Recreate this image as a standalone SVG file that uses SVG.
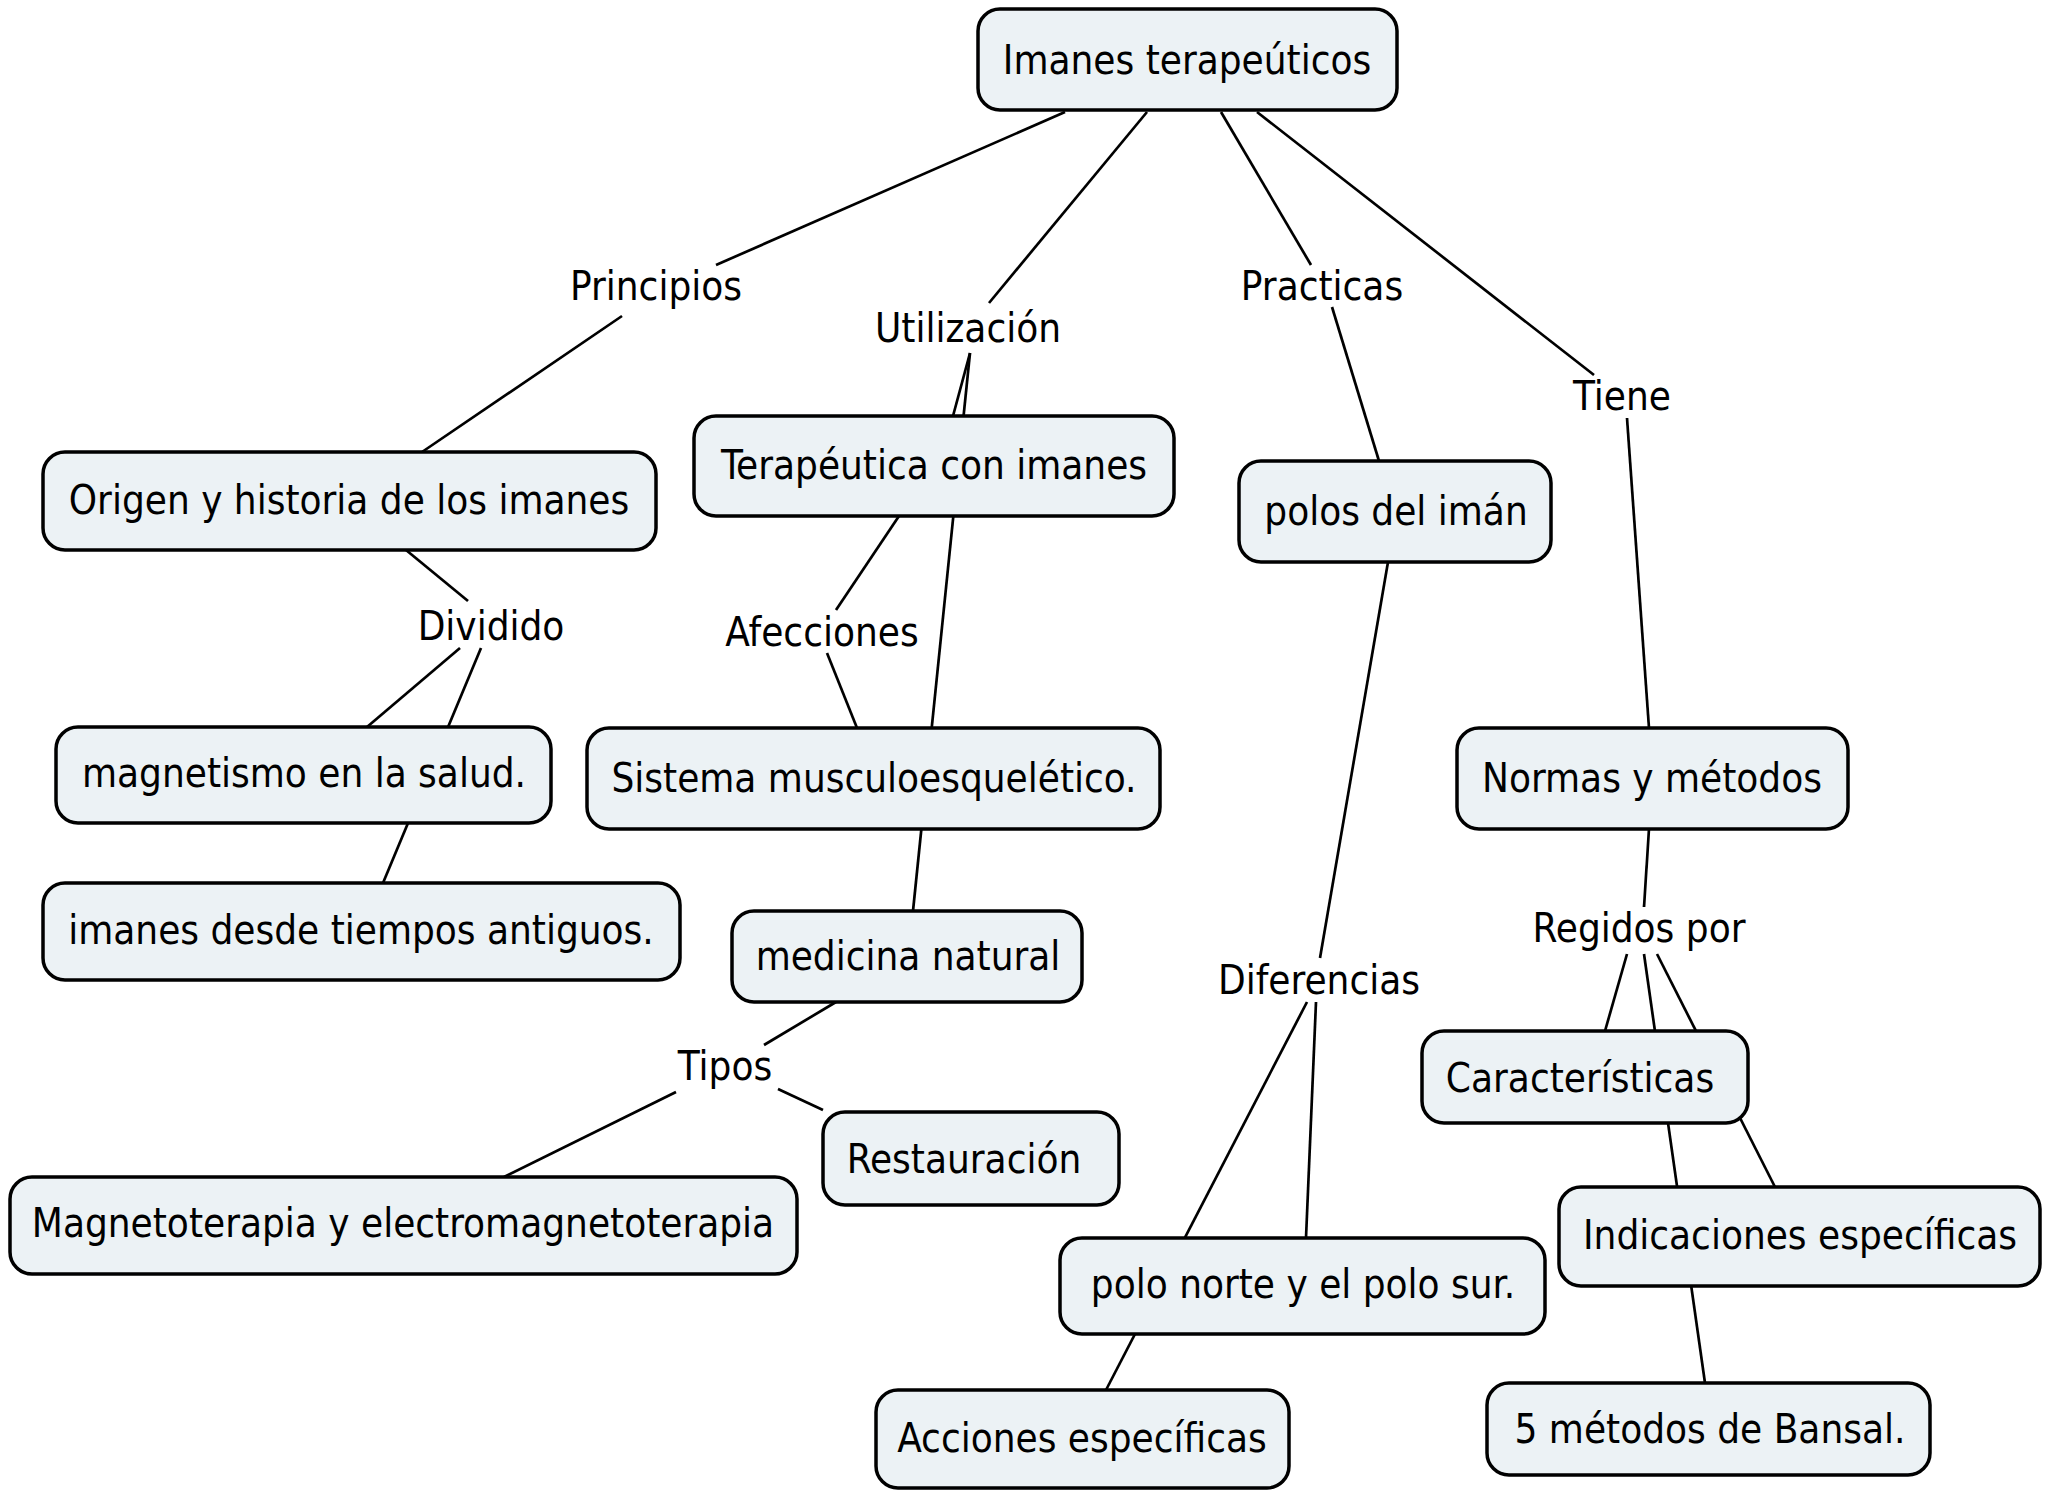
<svg xmlns="http://www.w3.org/2000/svg" width="2049" height="1494" viewBox="0 0 2049 1494">
<style>
.n rect{fill:#ECF2F5;stroke:#000;stroke-width:3.5}
text{font-family:"DejaVu Sans Condensed","DejaVu Sans",sans-serif;font-size:40px;fill:#000;text-anchor:middle}
.c line{stroke:#000;stroke-width:2.7}
</style>
<rect width="2049" height="1494" fill="#fff"/>
<g id="connectors" class="c">
<line x1="1065" y1="112" x2="716" y2="265"/>
<line x1="622" y1="316" x2="422" y2="452"/>
<line x1="1147" y1="112" x2="989" y2="303"/>
<line x1="970" y1="353" x2="953" y2="416"/>
<line x1="970" y1="353" x2="913" y2="911"/>
<line x1="1221" y1="112" x2="1311" y2="265"/>
<line x1="1332" y1="307" x2="1379" y2="461"/>
<line x1="1257" y1="112" x2="1594" y2="375"/>
<line x1="1627" y1="418" x2="1649" y2="728"/>
<line x1="406" y1="550" x2="468" y2="601"/>
<line x1="460" y1="648" x2="367" y2="727"/>
<line x1="481" y1="648" x2="383" y2="883"/>
<line x1="899" y1="516" x2="836" y2="610"/>
<line x1="827" y1="653" x2="857" y2="728"/>
<line x1="836" y1="1002" x2="764" y2="1045"/>
<line x1="676" y1="1092" x2="504" y2="1177"/>
<line x1="778" y1="1089" x2="823" y2="1110"/>
<line x1="1388" y1="562" x2="1320" y2="958"/>
<line x1="1307" y1="1002" x2="1106" y2="1390"/>
<line x1="1316" y1="1002" x2="1306" y2="1238"/>
<line x1="1649" y1="829" x2="1644" y2="907"/>
<line x1="1627" y1="954" x2="1605" y2="1031"/>
<line x1="1644" y1="954" x2="1705" y2="1383"/>
<line x1="1657" y1="954" x2="1775" y2="1187"/>
</g>
<g id="labels">
<text x="656" y="300">Principios</text>
<text x="968" y="342">Utilización</text>
<text x="1322" y="300">Practicas</text>
<text x="1622" y="410">Tiene</text>
<text x="491" y="640">Dividido</text>
<text x="822" y="646">Afecciones</text>
<text x="725" y="1080">Tipos</text>
<text x="1319" y="994">Diferencias</text>
<text x="1639" y="942">Regidos por</text>
</g>
<g id="n1" class="n"><rect x="978" y="9" width="419" height="101" rx="22"/><text x="1187" y="74">Imanes terapeúticos</text></g>
<g id="n2" class="n"><rect x="43" y="452" width="613" height="98" rx="22"/><text x="349" y="514">Origen y historia de los imanes</text></g>
<g id="n3" class="n"><rect x="694" y="416" width="480" height="100" rx="22"/><text x="934" y="479">Terapéutica con imanes</text></g>
<g id="n4" class="n"><rect x="1239" y="461" width="312" height="101" rx="22"/><text x="1396" y="525">polos del imán</text></g>
<g id="n5" class="n"><rect x="56" y="727" width="495" height="96" rx="22"/><text x="304" y="787">magnetismo en la salud.</text></g>
<g id="n6" class="n"><rect x="587" y="728" width="573" height="101" rx="22"/><text x="874" y="792">Sistema musculoesquelético.</text></g>
<g id="n7" class="n"><rect x="1457" y="728" width="391" height="101" rx="22"/><text x="1652" y="792">Normas y métodos</text></g>
<g id="n8" class="n"><rect x="43" y="883" width="637" height="97" rx="22"/><text x="361" y="944">imanes desde tiempos antiguos.</text></g>
<g id="n9" class="n"><rect x="732" y="911" width="350" height="91" rx="22"/><text x="908" y="970">medicina natural</text></g>
<g id="n10" class="n"><rect x="1422" y="1031" width="326" height="92" rx="22"/><text x="1580" y="1092">Características</text></g>
<g id="n11" class="n"><rect x="823" y="1112" width="296" height="93" rx="22"/><text x="964" y="1173">Restauración</text></g>
<g id="n12" class="n"><rect x="10" y="1177" width="787" height="97" rx="22"/><text x="403" y="1237">Magnetoterapia y electromagnetoterapia</text></g>
<g id="n13" class="n"><rect x="1559" y="1187" width="481" height="99" rx="22"/><text x="1800" y="1249">Indicaciones específicas</text></g>
<g id="n14" class="n"><rect x="1060" y="1238" width="485" height="96" rx="22"/><text x="1303" y="1298">polo norte y el polo sur.</text></g>
<g id="n15" class="n"><rect x="876" y="1390" width="413" height="98" rx="22"/><text x="1082" y="1452">Acciones específicas</text></g>
<g id="n16" class="n"><rect x="1487" y="1383" width="443" height="92" rx="22"/><text x="1710" y="1443">5 métodos de Bansal.</text></g>
</svg>
